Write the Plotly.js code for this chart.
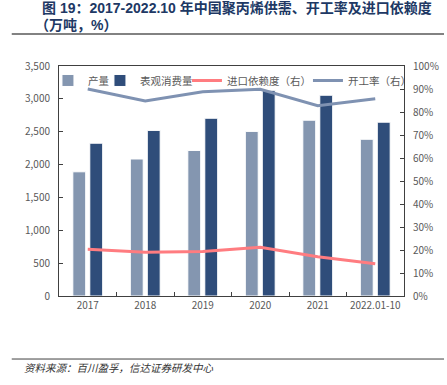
<!DOCTYPE html>
<html>
<head>
<meta charset="utf-8">
<script src="https://cdn.plot.ly/plotly-3.0.1.min.js"></script>
<style>html,body{margin:0;padding:0;background:#fff;}#chart{width:447px;height:385px;}</style>
</head>
<body>
<div id="chart"></div>
<script>
const categories = ["2017", "2018", "2019", "2020", "2021", "2022.01-10"];
const production = [1890, 2085, 2215, 2505, 2675, 2385];
const consumption = [2325, 2520, 2705, 3130, 3055, 2645];
const importDependency = [20.3, 19.0, 19.3, 21.2, 17.1, 14.0];
const operatingRate = [90.0, 84.8, 88.8, 89.9, 82.7, 85.8];
const seriesNames = ["产量", "表观消费量", "进口依赖度（右）", "开工率（右）"];
const leftTicks = [0, 500, 1000, 1500, 2000, 2500, 3000, 3500];
const rightTicks = [0, 10, 20, 30, 40, 50, 60, 70, 80, 90, 100];
const rightTickText = rightTicks.map(v => v + "%");

const FONT = "Noto Sans CJK SC, Noto Sans, sans-serif";
const TFONT = "Liberation Sans, Noto Sans CJK SC, sans-serif";
const GRAY = "#595959";
const AX = "#404040";

const traces = [
  {type: "bar", name: seriesNames[0], x: categories, y: production,
   marker: {color: "#8496B0", line: {color: "#ffffff", width: 1}}, legendwidth: 7},
  {type: "bar", name: seriesNames[1], x: categories, y: consumption,
   marker: {color: "#2F4D7A", line: {color: "#ffffff", width: 1}}, legendwidth: 42},
  {type: "scatter", mode: "lines", name: seriesNames[2], x: categories, y: importDependency,
   yaxis: "y2", line: {color: "#FF7C80", width: 3}, legendwidth: 76},
  {type: "scatter", mode: "lines", name: seriesNames[3], x: categories, y: operatingRate,
   yaxis: "y2", line: {color: "#7F92B2", width: 3}}
];

const layout = {
  width: 447, height: 385,
  margin: {l: 59, r: 43, t: 66, b: 89},
  paper_bgcolor: "#fff", plot_bgcolor: "#fff",
  font: {family: FONT, color: GRAY, size: 10},
  barmode: "group", bargap: 0.41, bargroupgap: 0.24,
  showlegend: true,
  legend: {
    orientation: "h", x: -0.032, xanchor: "left", y: 1.0001, yanchor: "top",
    bgcolor: "rgba(255,255,255,0)", font: {family: FONT, size: 10.5, color: GRAY},
    traceorder: "normal", itemwidth: 30
  },
  xaxis: {
    type: "category", tickvals: categories, ticktext: categories, tickangle: 0,
    showline: true, linecolor: AX, linewidth: 1, mirror: true,
    ticks: "inside", tickson: "boundaries", ticklen: 4, tickcolor: AX,
    showgrid: false, tickfont: {size: 10, color: GRAY}, fixedrange: true
  },
  yaxis: {
    range: [0, 3500], tickvals: leftTicks, tickformat: ",d",
    showline: true, linecolor: AX, linewidth: 1, mirror: false,
    ticks: "inside", ticklen: 4, tickcolor: AX, showgrid: false, zeroline: false,
    tickfont: {size: 10, color: GRAY}, ticklabelstandoff: 6
  },
  yaxis2: {
    overlaying: "y", side: "right", range: [0, 100], tickvals: rightTicks, ticktext: rightTickText,
    showline: true, linecolor: AX, linewidth: 1,
    ticks: "inside", ticklen: 4, tickcolor: AX, showgrid: false, zeroline: false,
    tickfont: {size: 10, color: GRAY}, ticklabelstandoff: 6
  },
  shapes: [
    {type: "line", xref: "paper", yref: "paper", x0: -0.137, x1: 1.116, y0: 1.139, y1: 1.139,
     line: {color: "#595959", width: 1.5}},
    {type: "line", xref: "paper", yref: "paper", x0: -0.137, x1: 1.116, y0: -0.274, y1: -0.274,
     line: {color: "#404040", width: 1}}
  ],
  annotations: [
    {text: "<b>图 19：2017-2022.10 年中国聚丙烯供需、开工率及进口依赖度</b>",
     xref: "paper", yref: "paper",
     x: 1.0843, xanchor: "right", y: 1.2509, yanchor: "middle", showarrow: false, borderpad: 0,
     font: {family: TFONT, size: 14, color: "#203864"}},
    {text: "<b>（万吨，%）</b>",
     xref: "paper", yref: "paper",
     x: -0.0727, xanchor: "left", y: 1.1783, yanchor: "middle", showarrow: false, borderpad: 0,
     font: {family: TFONT, size: 14, color: "#203864"}},
    {text: "<i>资料来源：百川盈孚，信达证券研发中心</i>", xref: "paper", yref: "paper",
     x: -0.1076, xanchor: "left", y: -0.313, yanchor: "middle", showarrow: false,
     font: {family: FONT, size: 10.5, color: "#333333"}}
  ]
};

Plotly.newPlot("chart", traces, layout, {displayModeBar: false, staticPlot: true});
</script>
</body>
</html>
